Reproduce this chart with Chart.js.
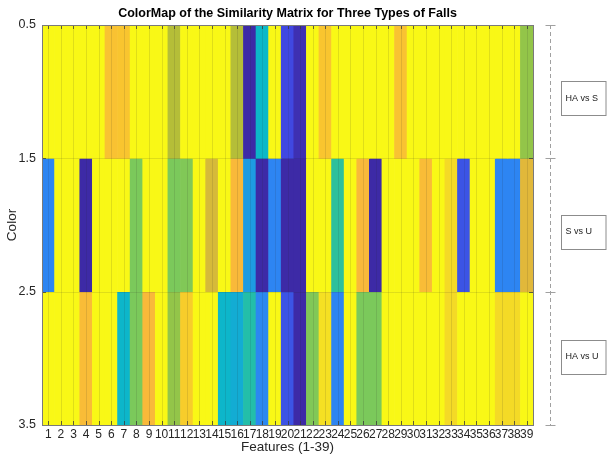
<!DOCTYPE html>
<html>
<head>
<meta charset="utf-8">
<script src="https://cdn.jsdelivr.net/npm/chart.js@4.4.0/dist/chart.umd.min.js"></script>
<style>
  html, body { margin: 0; padding: 0; background: #fff; }
</style>
</head>
<body>
<canvas id="heat" width="607" height="455"></canvas>
<script>
// features along x, one row per pair of fall types
const features = [1, 2, 3, 4, 5, 6, 7, 8, 9, 10, 11, 12, 13, 14, 15, 16, 17, 18, 19, 20,
  21, 22, 23, 24, 25, 26, 27, 28, 29, 30, 31, 32, 33, 34, 35, 36, 37, 38, 39];
const pairs = ['HA vs S', 'S vs U', 'HA vs U'];
const rowPos = [1, 2, 3];
const yTicks = [0.5, 1.5, 2.5, 3.5];
const pairLabelAt = [1.05, 2.05, 2.99];
const chartTitle = 'ColorMap of the Similarity Matrix for Three Types of Falls';

// similarity values (0 = dark blue, 1 = yellow)
const haVsS = [1, 1, 1, 1, 1, 0.89, 0.9, 1, 1, 1, 0.72, 1, 1, 1, 1, 0.72, 0, 0.4, 1, 0.1,
  0.02, 1, 0.9, 1, 1, 1, 1, 1, 0.89, 1, 1, 1, 1, 1, 1, 1, 1, 1, 0.66];
const sVsU = [0.2, 1, 1, 0, 1, 1, 1, 0.62, 1, 1, 0.62, 0.63, 1, 0.78, 1, 0.86, 0.28, 0, 0.2, 0,
  0, 1, 1, 0.5, 1, 0.86, 0, 1, 1, 1, 0.87, 1, 0.95, 0.12, 1, 1, 0.2, 0.2, 0.8];
const haVsU = [1, 1, 1, 0.87, 1, 1, 0.39, 0.62, 0.86, 1, 0.66, 0.92, 1, 1, 0.39, 0.35, 0.47, 0.21, 1, 0.12,
  0, 0.63, 0.96, 0.2, 1, 0.62, 0.62, 1, 1, 1, 1, 1, 0.95, 1, 1, 1, 0.95, 0.95, 1];

const rows = [haVsS, sVsU, haVsU];

// parula-like colour map
const stops = [
  [0.00, [61, 42, 166]],
  [0.10, [64, 72, 226]],
  [0.20, [45, 133, 242]],
  [0.30, [25, 160, 222]],
  [0.40, [12, 184, 200]],
  [0.50, [45, 192, 156]],
  [0.62, [123, 201, 91]],
  [0.70, [170, 192, 55]],
  [0.80, [225, 184, 58]],
  [0.86, [249, 185, 58]],
  [0.90, [249, 197, 47]],
  [0.95, [244, 218, 38]],
  [1.00, [249, 248, 22]]
];

function parula(v) {
  for (let i = 1; i < stops.length; i++) {
    if (v <= stops[i][0]) {
      const [a, ca] = stops[i - 1];
      const [b, cb] = stops[i];
      const t = (v - a) / (b - a);
      const c = ca.map((k, j) => Math.round(k + (cb[j] - k) * t));
      return `rgb(${c[0]},${c[1]},${c[2]})`;
    }
  }
  const c = stops[stops.length - 1][1];
  return `rgb(${c[0]},${c[1]},${c[2]})`;
}

const FONT = "'Liberation Sans', Arial, Helvetica, sans-serif";

// faint grid, inside ticks and box drawn on top of the cells
const overlay = {
  id: 'overlay',
  afterDatasetsDraw(chart) {
    const { ctx, chartArea: a, scales: { x, y } } = chart;
    const line = (x1, y1, x2, y2) => { ctx.beginPath(); ctx.moveTo(x1, y1); ctx.lineTo(x2, y2); ctx.stroke(); };
    ctx.save();
    ctx.lineWidth = 1;
    ctx.strokeStyle = 'rgba(40,40,40,0.12)';
    features.forEach(f => {
      const px = Math.round(x.getPixelForValue(f)) + 0.5;
      line(px, a.top, px, a.bottom);
    });
    yTicks.forEach(v => {
      const py = Math.round(y.getPixelForValue(v)) + 0.5;
      line(a.left, py, a.right, py);
    });
    ctx.strokeStyle = 'rgba(60,60,60,0.8)';
    features.forEach(f => {
      const px = Math.round(x.getPixelForValue(f)) + 0.5;
      line(px, a.bottom, px, a.bottom - 4);
      line(px, a.top, px, a.top + 4);
    });
    yTicks.forEach(v => {
      const py = Math.round(y.getPixelForValue(v)) + 0.5;
      line(a.left, py, a.left + 4, py);
      line(a.right, py, a.right - 4, py);
    });
    ctx.strokeStyle = '#7a7a7a';
    ctx.strokeRect(Math.round(a.left) + 0.5, Math.round(a.top) + 0.5,
      Math.round(a.right - a.left), Math.round(a.bottom - a.top));
    ctx.restore();
  },
  afterDraw(chart) {
    const { ctx, chartArea: a, scales: { y } } = chart;
    ctx.save();
    // title centred over the plot box
    ctx.fillStyle = '#000';
    ctx.font = `bold 12.5px ${FONT}`;
    ctx.textAlign = 'center';
    ctx.textBaseline = 'middle';
    ctx.fillText(chartTitle, (a.left + a.right) / 2, 14);

    // bracket line with the pair labels on the right
    const lx = Math.round(a.right) + 17.5;
    ctx.strokeStyle = '#a0a0a0';
    ctx.lineWidth = 1;
    ctx.setLineDash([4, 3]);
    ctx.beginPath();
    ctx.moveTo(lx, y.getPixelForValue(yTicks[0]));
    ctx.lineTo(lx, y.getPixelForValue(yTicks[yTicks.length - 1]));
    ctx.stroke();
    ctx.setLineDash([]);
    yTicks.forEach(v => {
      const py = Math.round(y.getPixelForValue(v)) + 0.5;
      ctx.beginPath(); ctx.moveTo(lx - 5, py); ctx.lineTo(lx + 5, py); ctx.stroke();
    });
    ctx.font = `9px ${FONT}`;
    ctx.textAlign = 'left';
    pairs.forEach((p, i) => {
      const cy = y.getPixelForValue(pairLabelAt[i]);
      const bx = lx + 11;
      ctx.fillStyle = '#fff';
      ctx.fillRect(bx, cy - 17, 607 - bx, 34);
      ctx.strokeStyle = '#8c8c8c';
      ctx.strokeRect(bx, Math.round(cy - 17) + 0.5, 606 - bx, 34);
      ctx.fillStyle = '#1a1a1a';
      ctx.fillText(p, bx + 4, cy);
    });
    ctx.restore();
  }
};

new Chart(document.getElementById('heat'), {
  type: 'bar',
  data: {
    datasets: rows.map((vals, r) => ({
      label: pairs[r],
      data: features.map(f => ({ x: f, y: [rowPos[r] - 0.5, rowPos[r] + 0.5] })),
      backgroundColor: vals.map(parula),
      borderWidth: 0,
      barPercentage: 1,
      categoryPercentage: 1,
      grouped: false,
      clip: 0
    }))
  },
  options: {
    responsive: false,
    animation: false,
    layout: { padding: { left: 0, right: 74, top: 25, bottom: 0 } },
    plugins: {
      legend: { display: false },
      tooltip: { enabled: false },
      title: { display: false }
    },
    scales: {
      x: {
        type: 'linear',
        min: 1,
        max: 39,
        afterBuildTicks: s => { s.ticks = features.map(v => ({ value: v })); },
        afterFit: s => { s.height = 30; },
        grid: { display: false, drawTicks: false },
        border: { display: false },
        ticks: {
          autoSkip: false, maxRotation: 0, padding: 2,
          color: '#262626', font: { family: FONT, size: 12 }
        },
        title: {
          display: true, text: 'Features (1-39)', color: '#262626',
          font: { family: FONT, size: 13.5 }, padding: { top: 0, bottom: 0 }
        }
      },
      y: {
        type: 'linear',
        reverse: true,
        min: 0.5,
        max: 3.5,
        afterBuildTicks: s => { s.ticks = yTicks.map(v => ({ value: v })); },
        afterFit: s => { s.width = 42; },
        grid: { display: false, drawTicks: false },
        border: { display: false },
        ticks: {
          padding: 6, color: '#262626', font: { family: FONT, size: 12.5 },
          callback: v => v.toFixed(1)
        },
        title: {
          display: true, text: 'Color', color: '#262626',
          font: { family: FONT, size: 13.5 }, padding: { top: 4, bottom: 0 }
        }
      }
    }
  },
  plugins: [overlay]
});
</script>
</body>
</html>
